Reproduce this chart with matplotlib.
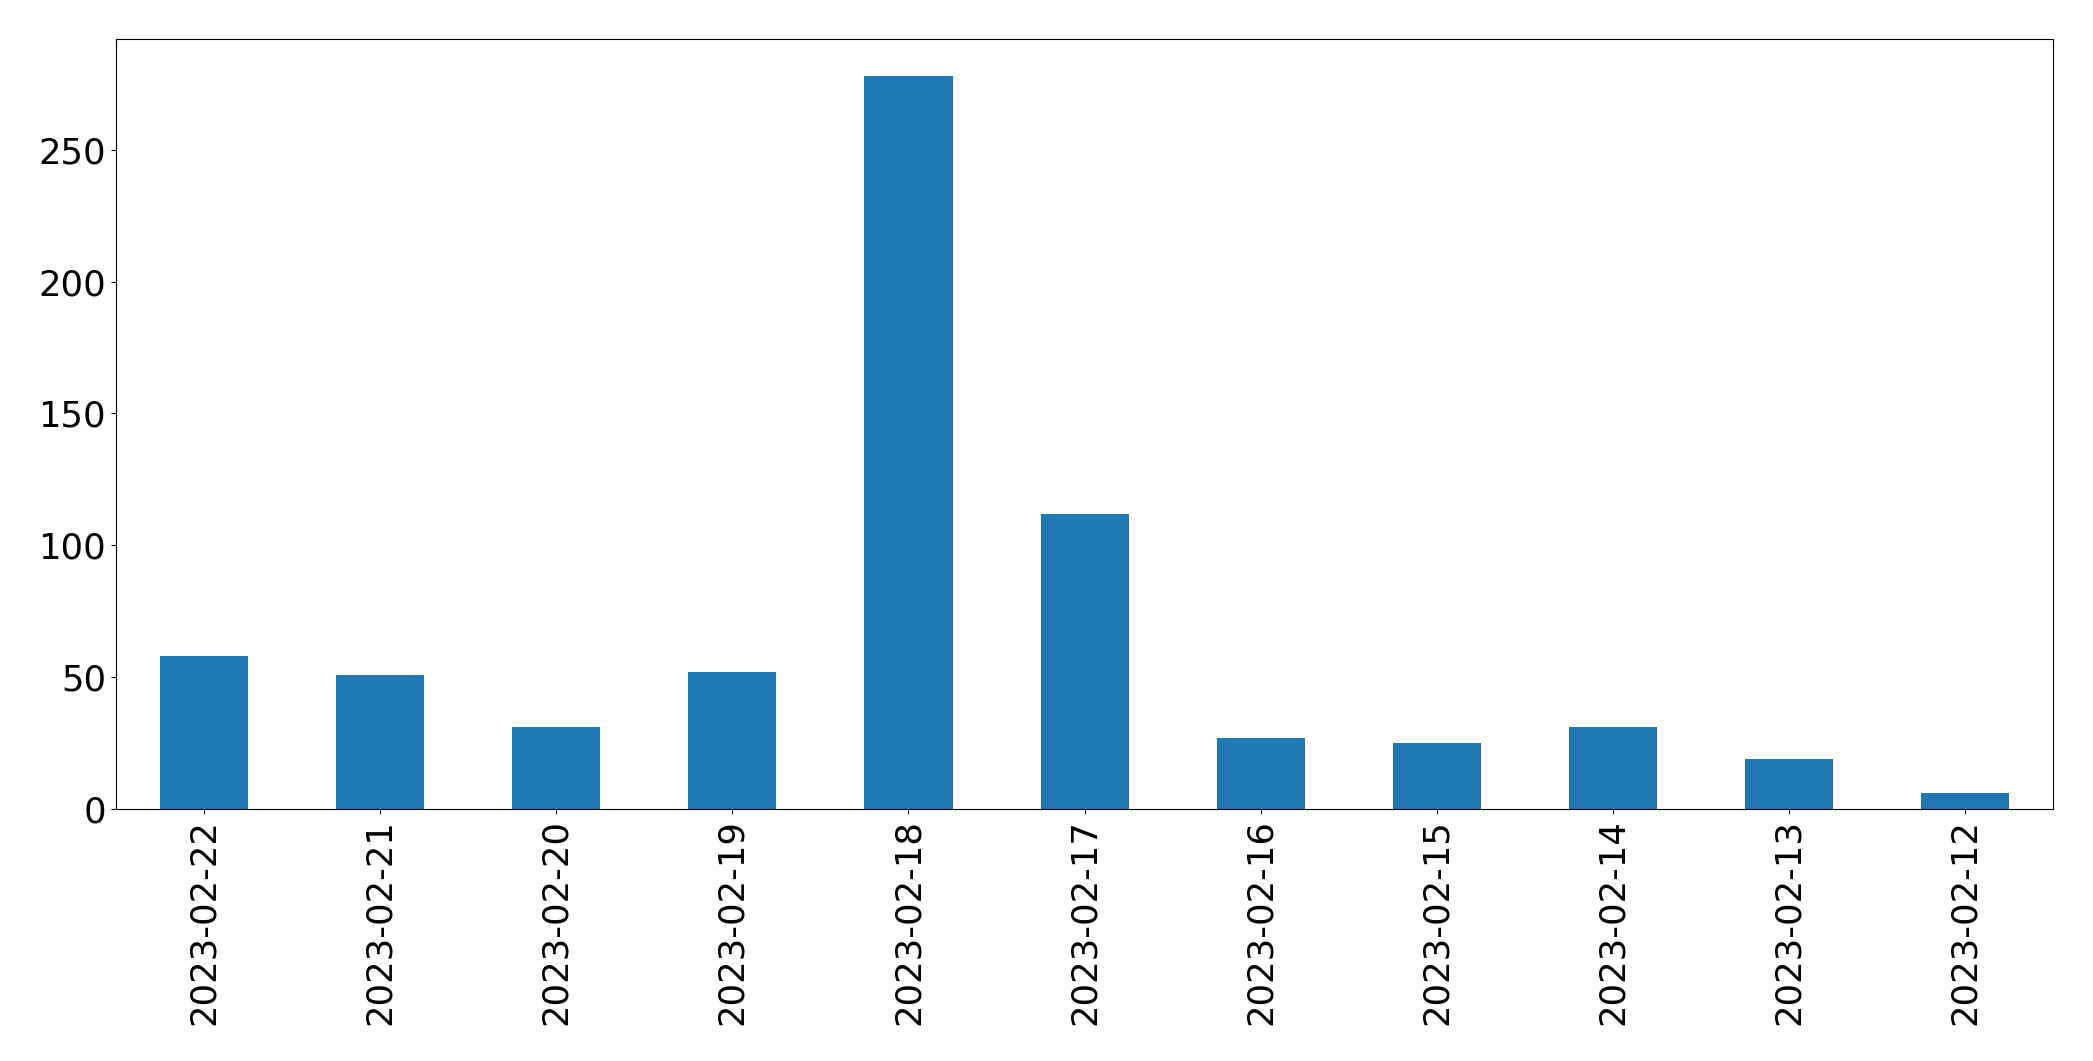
import numpy as np
import matplotlib
matplotlib.use("Agg")
import matplotlib.pyplot as plt

# Daily counts (newest first, as in the source)
dates = ["2023-02-22", "2023-02-21", "2023-02-20", "2023-02-19", "2023-02-18",
         "2023-02-17", "2023-02-16", "2023-02-15", "2023-02-14", "2023-02-13",
         "2023-02-12"]
counts = [58, 51, 31, 52, 278, 112, 27, 25, 31, 19, 6]

fig = plt.figure(figsize=(20.93, 10.61), dpi=100)
ax = fig.add_axes([0.0554, 0.2375, 0.9256, 0.7255])

x = np.arange(len(dates))
ax.bar(x, counts, width=0.5, color="#1f77b4")
ax.set_xlim(-0.5, len(dates) - 0.5)
ax.set_ylim(0, max(counts) * 1.05)
ax.set_xticks(x)
ax.set_xticklabels(dates, rotation=90)
ax.set_yticks([0, 50, 100, 150, 200, 250])
ax.tick_params(axis="both", labelsize=25.5)

fig.savefig("out.png", dpi=100)
